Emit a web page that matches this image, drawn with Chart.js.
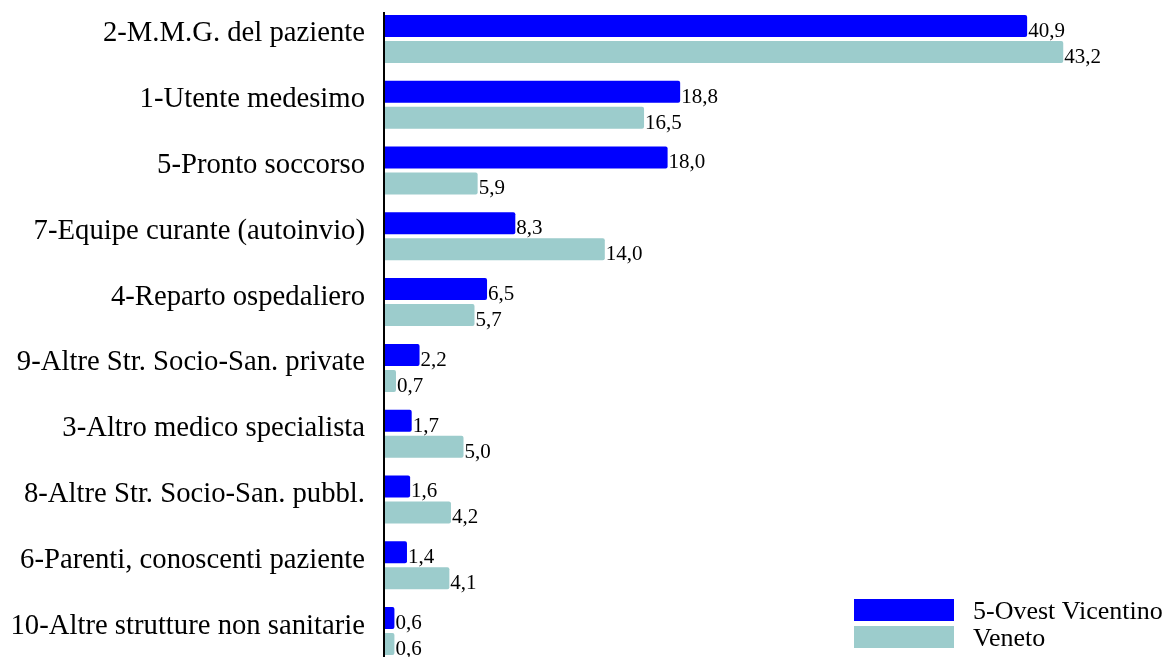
<!DOCTYPE html>
<html>
<head>
<meta charset="utf-8">
<script src="https://cdn.jsdelivr.net/npm/chart.js@4"></script>
<style>
  html, body { margin: 0; padding: 0; background: #fff; overflow: hidden; }
  #wrap { position: relative; width: 1172px; height: 664px; }
</style>
</head>
<body>
<div id="wrap"><canvas id="barChart"></canvas></div>
<script>
const categories = [
  "2-M.M.G. del paziente",
  "1-Utente medesimo",
  "5-Pronto soccorso",
  "7-Equipe curante (autoinvio)",
  "4-Reparto ospedaliero",
  "9-Altre Str. Socio-San. private",
  "3-Altro medico specialista",
  "8-Altre Str. Socio-San. pubbl.",
  "6-Parenti, conoscenti paziente",
  "10-Altre strutture non sanitarie",
];
const ovestValues = [40.9, 18.8, 18.0, 8.3, 6.5, 2.2, 1.7, 1.6, 1.4, 0.6];
const venetoValues = [43.2, 16.5, 5.9, 14.0, 5.7, 0.7, 5.0, 4.2, 4.1, 0.6];
const seriesNames = ["5-Ovest Vicentino", "Veneto"];

const serif = "'Liberation Serif', 'Times New Roman', serif";

// value labels at the end of each bar, comma decimals
const valueLabels = {
  id: "valueLabels",
  afterDatasetsDraw(chart) {
    const ctx = chart.ctx;
    ctx.save();
    ctx.font = "21px " + serif;
    ctx.fillStyle = "#000";
    ctx.textAlign = "left";
    ctx.textBaseline = "alphabetic";
    chart.data.datasets.forEach((ds, di) => {
      chart.getDatasetMeta(di).data.forEach((bar, i) => {
        const txt = ds.data[i].toFixed(1).replace(".", ",");
        ctx.fillText(txt, bar.x + 1, bar.y + bar.height / 2);
      });
    });
    ctx.restore();
  },
};

// axis line + stacked legend in the lower right
const extras = {
  id: "extras",
  afterDraw(chart) {
    const ctx = chart.ctx;
    const x0 = chart.scales.x.getPixelForValue(0);
    ctx.save();
    ctx.strokeStyle = "#000";
    ctx.lineWidth = 2;
    ctx.beginPath();
    ctx.moveTo(x0 - 1, 12);
    ctx.lineTo(x0 - 1, chart.height);
    ctx.stroke();

    ctx.font = "26px " + serif;
    ctx.textBaseline = "alphabetic";
    chart.data.datasets.forEach((ds, i) => {
      const top = 599 + i * 27;
      ctx.fillStyle = ds.backgroundColor;
      ctx.fillRect(854, top, 100, 22);
      ctx.fillStyle = "#000";
      ctx.fillText(ds.label, 973, top + 20);
    });
    ctx.restore();
  },
};

const ctx = document.getElementById("barChart").getContext("2d");
new Chart(ctx, {
  type: "bar",
  data: {
    labels: categories,
    datasets: [
      {
        label: seriesNames[0],
        data: ovestValues,
        backgroundColor: "#0000ff",
        borderRadius: 2,
        categoryPercentage: 0.79,
        barPercentage: 0.846,
      },
      {
        label: seriesNames[1],
        data: venetoValues,
        backgroundColor: "#9ccccc",
        borderRadius: 2,
        categoryPercentage: 0.79,
        barPercentage: 0.846,
      },
    ],
  },
  options: {
    indexAxis: "y",
    responsive: true,
    maintainAspectRatio: false,
    animation: false,
    layout: { padding: { top: 6, bottom: 0, left: 0, right: 2 } },
    scales: {
      x: {
        display: false,
        min: 0,
        max: 50,
      },
      y: {
        afterFit: (scale) => {
          scale.width = 385;
          scale.paddingTop = 0;
          scale.paddingBottom = 0;
        },
        grid: { display: false, drawTicks: false },
        border: { display: false },
        ticks: {
          color: "#000",
          padding: 20,
          labelOffset: -5,
          font: { family: serif, size: 28.7 },
        },
      },
    },
    plugins: {
      legend: { display: false },
      tooltip: { enabled: false },
    },
  },
  plugins: [valueLabels, extras],
});
</script>
</body>
</html>
